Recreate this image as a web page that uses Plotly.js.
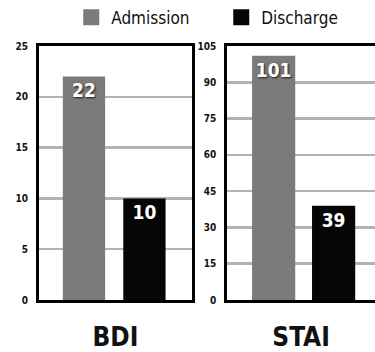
<!DOCTYPE html>
<html>
<head>
<meta charset="utf-8">
<script src="https://cdn.plot.ly/plotly-3.0.1.min.js"></script>
<style>html,body{margin:0;padding:0;background:#fff}#chart{width:375px;height:352px}</style>
</head>
<body>
<div id="chart"></div>
<script>
const seriesNames = ['Admission', 'Discharge'];
const seriesColors = ['#7b7b7b', '#060606'];
const scaleNames = ['BDI', 'STAI'];
const bdiValues = [22, 10];
const staiValues = [101, 39];
const bdiTicks = [0, 5, 10, 15, 20, 25];
const staiTicks = [0, 15, 30, 45, 60, 75, 90, 105];

const FONT = '"DejaVu Sans Condensed", "Liberation Sans", "Roboto", sans-serif';
const labelFont = {family: FONT, size: 19, color: '#ffffff', weight: 'bold', shadow: '1px 1px 2px rgba(0,0,0,0.8)'};

const traces = [];
seriesNames.forEach((name, i) => {
  traces.push({
    type: 'bar', x: [name], y: [bdiValues[i]], xaxis: 'x', yaxis: 'y',
    marker: {color: seriesColors[i]}, width: 0.7, showlegend: false,
    text: [String(bdiValues[i])], textposition: 'inside', insidetextanchor: 'end',
    textfont: labelFont, textangle: 0, hoverinfo: 'none', cliponaxis: false
  });
  traces.push({
    type: 'bar', x: [name], y: [staiValues[i]], xaxis: 'x2', yaxis: 'y2',
    marker: {color: seriesColors[i]}, width: 0.72, showlegend: false,
    text: [String(staiValues[i])], textposition: 'inside', insidetextanchor: 'end',
    textfont: labelFont, textangle: 0, hoverinfo: 'none', cliponaxis: false
  });
});
seriesNames.forEach((name, i) => {
  traces.push({
    type: 'scatter', mode: 'markers', x: [null], y: [null], xaxis: 'x', yaxis: 'y',
    name: name, marker: {symbol: 'square', size: 16, color: seriesColors[i]}, showlegend: true
  });
});

const yCommon = {
  showline: true, linewidth: 3, linecolor: '#000', showgrid: true, gridcolor: '#b3b3b3', gridwidth: 2.5,
  zeroline: false, ticks: '', tickfont: {family: FONT, size: 10, color: '#111', weight: 'bold'},
  fixedrange: true, ticklabelstandoff: 6
};
const xCommon = {
  type: 'category', showline: true, linewidth: 3, linecolor: '#000', mirror: true, showticklabels: false,
  ticks: '', showgrid: false, zeroline: false, fixedrange: true
};

const layout = {
  width: 375, height: 352,
  margin: {l: 39, r: 0, t: 46, b: 52},
  paper_bgcolor: '#fff', plot_bgcolor: '#fff',
  barmode: 'overlay',
  font: {family: FONT},
  showlegend: true,
  legend: {orientation: 'h', xref: 'container', yref: 'container', x: 0.19, y: 0.95, xanchor: 'left', yanchor: 'middle',
           bgcolor: 'rgba(0,0,0,0)', font: {family: FONT, size: 17, color: '#111'}, entrywidth: 105, entrywidthmode: 'pixels', itemclick: false},
  xaxis: Object.assign({}, xCommon, {domain: [0, 0.455], anchor: 'y', range: [-0.744, 1.785],
          title: {text: scaleNames[0], font: {family: FONT, size: 26, color: '#111', weight: 'bold'}, standoff: 31}}),
  yaxis: Object.assign({}, yCommon, {domain: [0, 1], anchor: 'x', range: [0, 25], tickvals: bdiTicks, mirror: true}),
  xaxis2: Object.assign({}, xCommon, {domain: [0.56, 1], anchor: 'y2', range: [-0.775, 1.69],
          title: {text: scaleNames[1], font: {family: FONT, size: 26, color: '#111', weight: 'bold'}, standoff: 31}}),
  yaxis2: Object.assign({}, yCommon, {domain: [0, 1], anchor: 'x2', range: [0, 105], tickvals: staiTicks})
};

Plotly.newPlot('chart', traces, layout, {staticPlot: true, displayModeBar: false});
</script>
</body>
</html>
